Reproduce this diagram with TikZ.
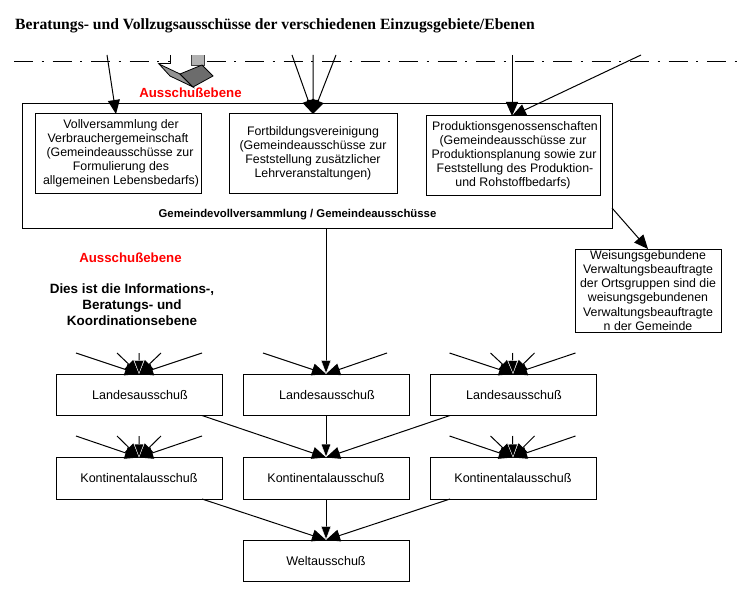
\documentclass[tikz,border=0pt]{standalone}
\usepackage{fontspec}
\setmainfont{Liberation Sans}
\newfontfamily\serifbold[BoldFont={Liberation Serif Bold}]{Liberation Serif}
\usetikzlibrary{arrows.meta}
\tikzset{
  box/.style={draw=black,line width=1bp,fill=white,inner sep=0pt,outer sep=0pt,align=center,anchor=north west,font=\fontsize{12.4}{14.2}\selectfont},
  lbox/.style={box,minimum width=166bp,minimum height=41.5bp,font=\fontsize{12.6}{14.2}\selectfont},
  flow/.style={draw=black,line width=1bp,-{Triangle[length=14bp,width=12bp]}},
  flowmid/.style={draw=black,line width=1bp,-{Triangle[length=13.5bp,width=10bp,color=white,fill=black,line width=.35bp]}},
  plainline/.style={draw=black,line width=1bp},
  redlabel/.style={text=red,font=\bfseries\fontsize{13.3}{14}\selectfont},
}
\begin{document}
\begin{tikzpicture}[x=1bp,y=-1bp]
\useasboundingbox (0,0) rectangle (748,601);
\node[anchor=base west,inner sep=0pt,font=\serifbold\bfseries\fontsize{15.7}{16}\selectfont] (title) at (15,30) {Beratungs- und Vollzugsausschüsse der verschiedenen Einzugsgebiete/Ebenen};
% dash-dot line
\coordinate (dl) at (14,62); \coordinate (dr) at (738,62);
\draw[line width=1bp,dash pattern=on 19bp off 8.5bp on 2bp off 9bp] (dl) -- (dr);
% gray pointer
\fill[white] (171,56) rectangle (191,63.5);
\draw[plainline] (170.5,55) -- (170.5,63.5) -- (159,63.5);
\draw[draw=gray!50!black,fill=gray!60,line width=.8bp] (191.5,55) -- (191.5,65) -- (204,65) -- (204,55);
\draw[line width=.8bp,fill=gray!85] (159,64) -- (180,74) -- (193,87) -- (170,76) -- cycle;
\draw[line width=.8bp,fill=gray!85!black] (180,74) -- (202,65) -- (213,76) -- (193,87) -- cycle;
% outer box
\node[box,minimum width=590bp,minimum height=124bp] (gem) at (22,104) {};
\node[box,minimum width=166bp,minimum height=79bp] (v1) at (35,114) {\hspace*{6bp}Vollversammlung der\\Verbrauchergemeinschaft\\\hspace*{4bp}(Gemeindeausschüsse zur\\\hspace*{6bp}Formulierung des\\\hspace*{6bp}allgemeinen Lebensbedarfs)};
\node[box,minimum width=168bp,minimum height=79bp] (v2) at (229,114) {Fortbildungsvereinigung\\(Gemeindeausschüsse zur\\Feststellung zusätzlicher\\Lehrveranstaltungen)};
\node[box,minimum width=174bp,minimum height=79bp] (v3) at (426,116) {\hspace*{4bp}Produktionsgenossenschaften\\(Gemeindeausschüsse zur\\\hspace*{2bp}Produktionsplanung sowie zur\\\hspace*{4bp}Feststellung des Produktion-\\und Rohstoffbedarfs)};
\node[inner sep=0pt,font=\bfseries\fontsize{11.4}{12}\selectfont] (gemlabel) at (297.5,215) {Gemeindevollversammlung / Gemeindeausschüsse};
\node[redlabel] (r1) at (190.5,93) {Ausschußebene};
\node[redlabel] (r2) at (130.5,258) {Ausschußebene};
\node[inner sep=0pt,align=center,font=\bfseries\fontsize{13.5}{16}\selectfont] (info) at (132,305) {Dies ist die Informations-,\\Beratungs- und\\Koordinationsebene};
\node[box,minimum width=146bp,minimum height=83bp] (wb) at (575,249) {Weisungsgebundene\\Verwaltungsbeauftragte\\der Ortsgruppen sind die\\weisungsgebundenen\\Verwaltungsbeauftragte\\n der Gemeinde};
% lower boxes
\foreach \n/\x in {1/56,2/243,3/430}{
  \node[lbox] (l\n) at (\x,374) {\hspace*{2bp}Landesausschuß};
  \node[lbox] (k\n) at (\x,457.5) {Kontinentalausschuß};
}
\node[lbox] (welt) at (243,540) {Weltausschuß};
% top free ends
\coordinate (a1) at (107,55);
\coordinate (a2) at (292,55);
\coordinate (a3) at (313,55);
\coordinate (a4) at (336,55);
\coordinate (a5) at (512,55);
\coordinate (a6) at (641,55);
\draw[flow] (a1) -- (116,114);
\draw[flow] (a2) -- (v2.north);
\draw[flow] (a3) -- (v2.north);
\draw[flow] (a4) -- (v2.north);
\draw[flow] (a5) -- (512,116);
\draw[flow] (a6) -- (512,116);
\draw[flow] (612,208) -- (wb.north);
% fans
\foreach \n/\dx in {1/0,3/373.5}{
  \foreach \m/\y in {l/353,k/436}{
    \foreach \i/\ox in {1/76,2/117,4/161,5/202}{
      \coordinate (f\n\m\i) at ({\ox+\dx},\y);
      \draw[flow] (f\n\m\i) -- (\m\n.north);
    }
    \coordinate (f\n\m3) at ({139+\dx},\y);
    \draw[flowmid] (f\n\m3) -- (\m\n.north);
  }
}
\coordinate (f2a) at (263,353);
\coordinate (f2b) at (387,353);
\draw[flow] (f2a) -- (l2.north);
\draw[flow] (f2b) -- (l2.north);
\draw[flowmid] (gem.south -| l2.north) -- (l2.north);
% between levels
\draw[flow] (202,415.5) -- (k2.north);
\draw[flow] (450,415.5) -- (k2.north);
\draw[flowmid] (l2.south) -- (k2.north);
\draw[flow] (202,499) -- (welt.north);
\draw[flow] (450,499) -- (welt.north);
\draw[flowmid] (k2.south) -- (welt.north);
\end{tikzpicture}
\end{document}
